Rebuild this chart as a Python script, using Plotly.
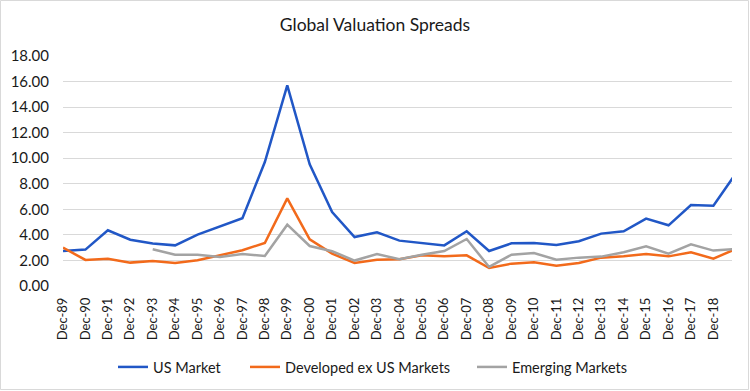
import plotly.graph_objects as go

categories = ["Dec-89", "Dec-90", "Dec-91", "Dec-92", "Dec-93", "Dec-94", "Dec-95", "Dec-96",
              "Dec-97", "Dec-98", "Dec-99", "Dec-00", "Dec-01", "Dec-02", "Dec-03", "Dec-04",
              "Dec-05", "Dec-06", "Dec-07", "Dec-08", "Dec-09", "Dec-10", "Dec-11", "Dec-12",
              "Dec-13", "Dec-14", "Dec-15", "Dec-16", "Dec-17", "Dec-18", "Dec-19"]
tick_labels = categories[:30]

us_market = [2.74, 2.85, 4.36, 3.62, 3.32, 3.18, 4.02, 4.67, 5.30, 9.70, 15.70, 9.52, 5.79, 3.83,
             4.20, 3.55, 3.39, 3.18, 4.28, 2.74, 3.34, 3.37, 3.21, 3.50, 4.10, 4.28, 5.27, 4.75,
             6.34, 6.29, 8.80]
developed_ex_us = [3.00, 2.04, 2.14, 1.83, 1.96, 1.80, 2.01, 2.40, 2.80, 3.37, 6.86, 3.65, 2.53,
                   1.80, 2.06, 2.09, 2.40, 2.32, 2.40, 1.41, 1.75, 1.85, 1.59, 1.80, 2.22, 2.32,
                   2.50, 2.32, 2.64, 2.14, 2.90]
emerging = [None, None, None, None, 2.87, 2.45, 2.45, 2.27, 2.50, 2.35, 4.80, 3.13, 2.72, 1.99,
            2.50, 2.09, 2.45, 2.74, 3.68, 1.49, 2.45, 2.58, 2.06, 2.22, 2.30, 2.64, 3.10, 2.53,
            3.26, 2.77, 2.90]

FONT = "Lato"
W, H = 750, 391
ml, mr, mt, mb = 63, 18, 56, 105
pw = W - ml - mr
ph = H - mt - mb

fig = go.Figure()
series = [("US Market", us_market, "#2157C6", "legend", 113),
          ("Developed ex US Markets", developed_ex_us, "#F26A1B", "legend2", 245),
          ("Emerging Markets", emerging, "#A3A3A3", "legend3", 472)]
leg_y = -(367 - (mt + ph)) / ph
legends = {}
for name, vals, col, leg, lx in series:
    fig.add_trace(go.Scatter(x=list(range(len(categories))), y=vals, name=name, mode="lines",
                             line=dict(color=col, width=2.5), connectgaps=False, legend=leg))
    legends[leg] = dict(orientation="h", x=(lx - ml) / pw, xanchor="left", y=leg_y,
                        yanchor="middle", font=dict(family=FONT, size=14.5, color="#1a1a1a"),
                        bgcolor="rgba(0,0,0,0)", borderwidth=0)

fig.update_layout(
    width=W, height=H,
    margin=dict(l=ml, r=mr, t=mt, b=mb, autoexpand=False),
    paper_bgcolor="white", plot_bgcolor="white",
    font=dict(family=FONT, color="#404040", size=13),
    title=dict(text="Global Valuation Spreads", x=0.5, xanchor="center", y=1 - 25 / H,
               yanchor="middle", font=dict(family=FONT, size=17.5, color="#1a1a1a")),
    xaxis=dict(range=[0, 29.83], tickmode="array", tickvals=list(range(30)), ticktext=tick_labels,
               tickangle=-90, showgrid=False, zeroline=False, showline=False, ticks="",
               automargin=False, ticklabelstandoff=8,
               tickfont=dict(family=FONT, size=13, color="#1a1a1a")),
    yaxis=dict(range=[0, 18], dtick=2, tickformat=".2f", showgrid=True, gridcolor="#D9D9D9",
               gridwidth=1, zeroline=False, showline=False, ticks="", automargin=False,
               ticklabelstandoff=13,
               tickfont=dict(family=FONT, size=15, color="#1a1a1a")),
    showlegend=True,
    **legends,
)
fig.add_shape(type="rect", xref="paper", yref="paper",
              x0=-(ml - 0.5) / pw, x1=(W - ml - 1.5) / pw,
              y0=-(mb - 1.5) / ph, y1=(ph + mt - 0.5) / ph,
              line=dict(color="#D9D9D9", width=1), layer="below")
fig.write_html("out.html", config={"displayModeBar": False},
               post_script="document.body.style.margin='0';document.body.style.padding='0';")
